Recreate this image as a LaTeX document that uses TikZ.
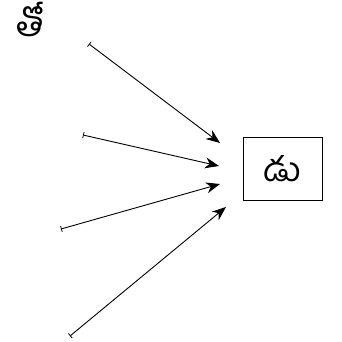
\documentclass[tikz,border=0pt]{standalone}
\usepackage{fontspec}
\newfontfamily\telugu[Script=Telugu]{Hind Guntur}
\usetikzlibrary{arrows.meta}
\begin{document}
\begin{tikzpicture}[x=1pt,y=-1pt,
  conn/.style={line width=0.9pt,{Bar[width=6pt,line width=0.8pt]}-{Stealth[length=14pt,width=11pt]}},
  boxnode/.style={draw,line width=0.8pt,minimum width=79pt,minimum height=63pt,inner sep=0pt,font=\telugu\fontsize{34}{40}\selectfont},
  lbl/.style={inner sep=0pt,font=\telugu\fontsize{36}{42}\selectfont}]
\useasboundingbox (0,0) rectangle (342,342);
\node[lbl] (t) at (30,19) {తో};
\node[boxnode] (b) at (282.5,168.5) {డు};
\coordinate (s1) at (89,44);
\coordinate (e1) at (220,143);
\coordinate (s2) at (83,135);
\coordinate (e2) at (219,166);
\coordinate (s3) at (61,229);
\coordinate (e3) at (220,184);
\coordinate (s4) at (70,336);
\coordinate (e4) at (226,207);
\draw[conn] (s1) -- (e1);
\draw[conn] (s2) -- (e2);
\draw[conn] (s3) -- (e3);
\draw[conn] (s4) -- (e4);
\end{tikzpicture}
\end{document}
